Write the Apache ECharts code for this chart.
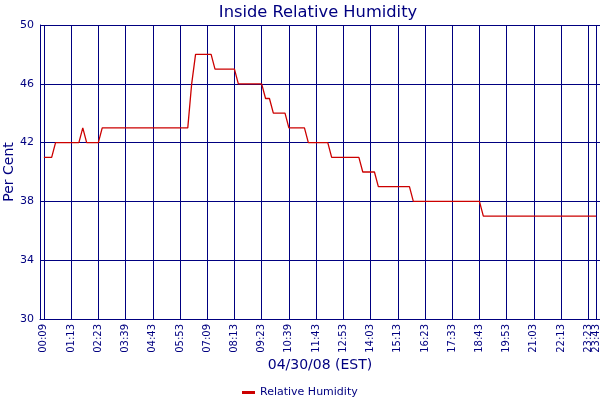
<!DOCTYPE html>
<html>
<head>
<meta charset="utf-8">
<script src="https://cdn.jsdelivr.net/npm/echarts@6/dist/echarts.min.js"></script>
<style>html,body{margin:0;padding:0;background:#fff;}#c{width:600px;height:400px;}</style>
</head>
<body>
<div id="c"></div>
<script>
// Tick labels shown along the x axis (every 7th sample, plus the final sample)
const tickLabels = ['00:09','01:13','02:23','03:39','04:43','05:53','07:09','08:13','09:23','10:39',
  '11:43','12:53','14:03','15:13','16:23','17:33','18:43','19:53','21:03','22:13','23:23'];
const lastLabel = '23:43';
const samplesPerTick = 7;

// Relative humidity samples (per cent)
const humidity = [
  41,41,41,
  42,42,42,42,42,42,42,
  43,
  42,42,42,42,
  43,43,43,43,43,43,43,43,43,43,43,43,43,43,43,43,43,43,43,43,43,43,43,
  46,
  48,48,48,48,48,
  47,47,47,47,47,47,
  46,46,46,46,46,46,46,
  45,45,
  44,44,44,44,
  43,43,43,43,43,
  42,42,42,42,42,42,
  41,41,41,41,41,41,41,41,
  40,40,40,40,
  39,39,39,39,39,39,39,39,39,
  38,38,38,38,38,38,38,38,38,38,38,38,38,38,38,38,38,38,
  37,37,37,37,37,37,37,37,37,37,37,37,37,37,37,37,37,37,37,37,37,37,37,37,37,37,37,37,37,37
];

// category list: one label per sample, padded by one empty slot at each end
const categories = [''];
humidity.forEach((v, i) => {
  let lab = '';
  if (i % samplesPerTick === 0 && i / samplesPerTick < tickLabels.length) lab = tickLabels[i / samplesPerTick];
  if (i === humidity.length - 1) lab = lastLabel;
  categories.push(lab);
});
categories.push('');
const seriesData = [null].concat(humidity, [null]);

const navy = '#000080';
const font = 'DejaVu Sans';
const showMain = (idx, val) => val !== '' && val !== lastLabel;
const showLast = (idx, val) => val === lastLabel;
const showAny = (idx, val) => val !== '';

const chart = echarts.init(document.getElementById('c'), null, {renderer: 'canvas'});
chart.setOption({
  animation: false,
  backgroundColor: '#fff',
  textStyle: {fontFamily: font},
  title: {
    text: 'Inside Relative Humidity',
    left: 313, top: 0, textAlign: 'center',
    textStyle: {color: navy, fontFamily: font, fontSize: 16.3, fontWeight: 'normal'}
  },
  grid: {left: 40, right: 0, top: 25, bottom: 81, containLabel: false, outerBoundsMode: 'none'},
  legend: {
    data: ['Relative Humidity'],
    top: 382, left: 237,
    icon: 'rect', itemWidth: 13, itemHeight: 3, itemGap: 4,
    textStyle: {color: navy, fontFamily: font, fontSize: 11}
  },
  xAxis: [{
    type: 'category',
    data: categories,
    boundaryGap: false,
    name: '04/30/08 (EST)',
    nameLocation: 'middle',
    nameGap: 39,
    nameMoveOverlap: false,
    nameTextStyle: {color: navy, fontFamily: font, fontSize: 14},
    axisLine: {show: true, lineStyle: {color: navy, width: 1}},
    axisTick: {show: false},
    axisLabel: {interval: showMain, rotate: 90, color: navy, fontFamily: font, fontSize: 10, margin: 5,
      hideOverlap: false},
    splitLine: {show: true, interval: showAny, lineStyle: {color: navy, width: 1}}
  }, {
    type: 'category',
    data: categories,
    boundaryGap: false,
    position: 'bottom',
    offset: 0,
    axisLine: {show: false},
    axisTick: {show: false},
    splitLine: {show: false},
    axisLabel: {interval: showLast, rotate: 90, color: navy, fontFamily: font, fontSize: 10, margin: 5,
      hideOverlap: false, showMaxLabel: true}
  }],
  yAxis: {
    type: 'value',
    min: 30, max: 50, interval: 4,
    name: 'Per Cent',
    nameLocation: 'middle',
    nameGap: 24,
    nameMoveOverlap: false,
    nameTextStyle: {color: navy, fontFamily: font, fontSize: 14},
    axisLine: {show: true, lineStyle: {color: navy, width: 1}},
    axisTick: {show: false},
    axisLabel: {color: navy, fontFamily: font, fontSize: 11, margin: 6},
    splitLine: {show: true, lineStyle: {color: navy, width: 1}}
  },
  series: [{
    name: 'Relative Humidity',
    type: 'line',
    xAxisIndex: 0,
    data: seriesData,
    showSymbol: false,
    symbol: 'none',
    connectNulls: false,
    itemStyle: {color: '#cc0000'},
    lineStyle: {color: '#cc0000', width: 1.3}
  }]
});
</script>
</body>
</html>
